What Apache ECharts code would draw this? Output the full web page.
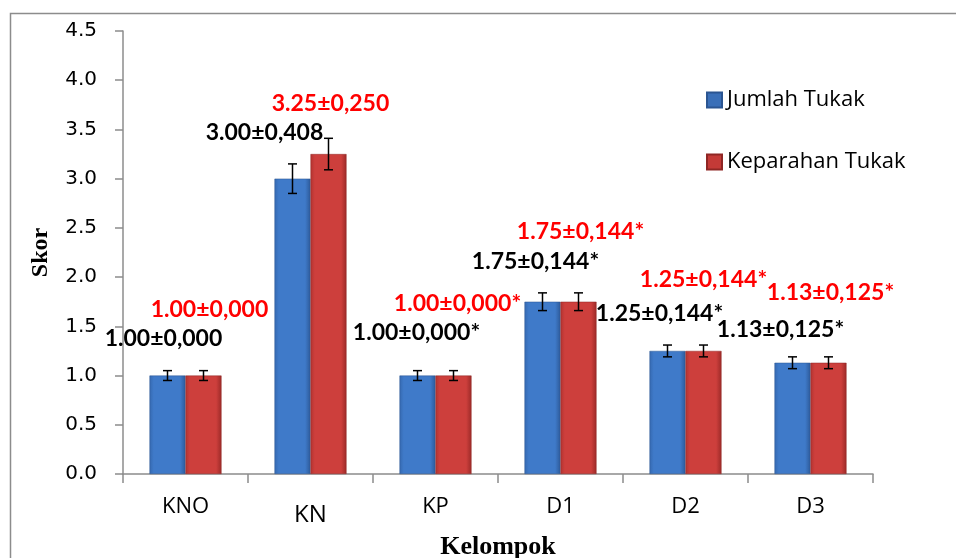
<!DOCTYPE html>
<html>
<head>
<meta charset="utf-8">
<script src="https://cdn.jsdelivr.net/npm/echarts@6/dist/echarts.min.js"></script>
<style>html,body{margin:0;padding:0;background:#fff}#c{width:956px;height:558px}</style>
</head>
<body>
<div id="c"></div>
<script>
const categories = ['KNO', 'KN', 'KP', 'D1', 'D2', 'D3'];
const jumlahValues = [1.00, 3.00, 1.00, 1.75, 1.25, 1.13];
const keparahanValues = [1.00, 3.25, 1.00, 1.75, 1.25, 1.13];
const jumlahErrors = [0.05, 0.15, 0.05, 0.09, 0.06, 0.06];
const keparahanErrors = [0.05, 0.16, 0.05, 0.09, 0.06, 0.06];
const jumlahLabels = ['1.00±0,000', '3.00±0,408', '1.00±0,000*', '1.75±0,144*', '1.25±0,144*', '1.13±0,125*'];
const keparahanLabels = ['1.00±0,000', '3.25±0,250', '1.00±0,000*', '1.75±0,144*', '1.25±0,144*', '1.13±0,125*'];
const yTicks = [0, 0.5, 1, 1.5, 2, 2.5, 3, 3.5, 4, 4.5];

// label offsets (layout only)
const jumlahOffsets = [[-4, -37], [-28, -46], [-1, -43], [-7, -40], [-8, -37], [-12, -33]];
const keparahanOffsets = [[6, -66], [2, -50], [4, -72], [2, -70], [0, -71], [2, -70]];

const BAR_W = 36;
const LABEL_FONT = 'Lato, "Open Sans", sans-serif';
const TEXT_FONT = '"Open Sans", "Noto Sans", sans-serif';
const TICK_FONT = '"DejaVu Sans", sans-serif';
const SERIF = '"Liberation Serif", "DejaVu Serif", serif';

function barColor(c1, c2, c3) {
  return new echarts.graphic.LinearGradient(0, 0, 1, 0, [
    { offset: 0, color: c1 }, { offset: 0.12, color: c2 },
    { offset: 0.85, color: c2 }, { offset: 1, color: c3 }
  ]);
}
const blue = barColor('#3569b0', '#3f7ac9', '#2d5a99');
const red = barColor('#b23330', '#cd3f3c', '#9c2a28');

function makeBarData(vals, labels, offsets, color) {
  return vals.map((v, i) => ({
    value: v,
    label: { formatter: labels[i], offset: offsets[i], color: color }
  }));
}

function errorSeries(name, vals, errs, dx) {
  return {
    type: 'custom', name: name + ' err', z: 10, silent: true,
    data: vals.map((v, i) => [i, v, errs[i]]),
    renderItem: function (params, api) {
      const x = api.value(0), v = api.value(1), e = api.value(2);
      const top = api.coord([x, v + e]);
      const bot = api.coord([x, v - e]);
      const cx = top[0] + dx;
      const w = 4.5;
      const st = { stroke: '#000', lineWidth: 1.5 };
      return {
        type: 'group', children: [
          { type: 'line', shape: { x1: cx, y1: top[1], x2: cx, y2: bot[1] }, style: st },
          { type: 'line', shape: { x1: cx - w, y1: top[1], x2: cx + w, y2: top[1] }, style: st },
          { type: 'line', shape: { x1: cx - w, y1: bot[1], x2: cx + w, y2: bot[1] }, style: st }
        ]
      };
    }
  };
}

const chart = echarts.init(document.getElementById('c'), null, { renderer: 'canvas' });
chart.setOption({
  animation: false,
  backgroundColor: '#fff',
  graphic: [{
    type: 'rect', shape: { x: 10.5, y: 13.5, width: 960, height: 560 },
    style: { fill: 'none', stroke: '#8c8c8c', lineWidth: 1.5 }, silent: true, z: -1
  }],
  grid: { left: 123, right: 83, top: 31, bottom: 84, outerBoundsMode: 'none', containLabel: false },
  legend: {
    orient: 'vertical', left: 701, top: 84, itemGap: 40,
    itemWidth: 15, itemHeight: 15, icon: 'rect',
    textStyle: { fontFamily: TEXT_FONT, fontSize: 22, lineHeight: 22, color: '#000' },
    data: [
      { name: 'Jumlah Tukak', itemStyle: { color: '#3a6fb8' } },
      { name: 'Keparahan Tukak', itemStyle: { color: '#c43a37' } }
    ]
  },
  xAxis: {
    type: 'category',
    data: categories.map(c => c === 'KN' ? { value: c, textStyle: { fontSize: 24, padding: [7, 0, 0, 0] } } : c),
    name: 'Kelompok', nameLocation: 'middle', nameGap: 60,
    nameTextStyle: { fontFamily: SERIF, fontWeight: 'bold', fontSize: 26, color: '#000' },
    axisLine: { lineStyle: { color: '#8c8c8c', width: 1.5 } },
    axisTick: { show: true, length: 9, lineStyle: { color: '#8c8c8c', width: 1.5 } },
    axisLabel: { fontFamily: TEXT_FONT, fontSize: 22, color: '#000', margin: 22 }
  },
  yAxis: {
    type: 'value', min: 0, max: 4.5, interval: 0.5,
    name: 'Skor', nameLocation: 'middle', nameGap: 70, nameRotate: 90,
    nameTextStyle: { fontFamily: SERIF, fontWeight: 'bold', fontSize: 24, color: '#000' },
    splitLine: { show: false },
    axisLine: { show: true, lineStyle: { color: '#8c8c8c', width: 1.5 } },
    axisTick: { show: true, length: 8, lineStyle: { color: '#8c8c8c', width: 1.5 } },
    axisLabel: {
      fontFamily: TICK_FONT, fontSize: 20, color: '#000', margin: 26,
      formatter: v => (yTicks.includes(v) ? v.toFixed(1) : '')
    }
  },
  series: [
    {
      name: 'Jumlah Tukak', type: 'bar', barWidth: BAR_W, barGap: '0%',
      itemStyle: { color: blue, borderColor: '#2b5591', borderWidth: 0.5 },
      label: { show: true, position: 'top', distance: 0, verticalAlign: 'middle', align: 'center',
        fontFamily: LABEL_FONT, fontWeight: 'bold', fontSize: 23 },
      data: makeBarData(jumlahValues, jumlahLabels, jumlahOffsets, '#000')
    },
    {
      name: 'Keparahan Tukak', type: 'bar', barWidth: BAR_W, barGap: '0%',
      itemStyle: { color: red, borderColor: '#8f2624', borderWidth: 0.5 },
      label: { show: true, position: 'top', distance: 0, verticalAlign: 'middle', align: 'center',
        fontFamily: LABEL_FONT, fontWeight: 'bold', fontSize: 23 },
      data: makeBarData(keparahanValues, keparahanLabels, keparahanOffsets, '#ff0000')
    },
    errorSeries('Jumlah Tukak', jumlahValues, jumlahErrors, -BAR_W / 2),
    errorSeries('Keparahan Tukak', keparahanValues, keparahanErrors, BAR_W / 2)
  ]
});
</script>
</body>
</html>
